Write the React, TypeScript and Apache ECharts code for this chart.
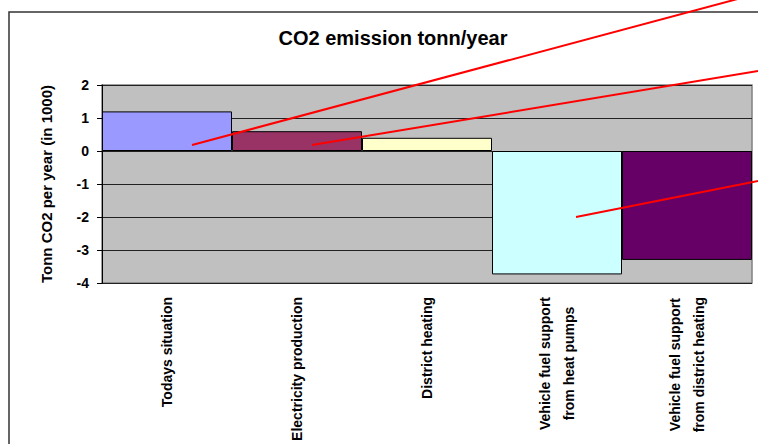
import React, { useEffect, useRef } from "react";
import * as echarts from "echarts";

const categories = [
  "Todays situation",
  "Electricity production",
  "District heating",
  "Vehicle fuel support\nfrom heat pumps",
  "Vehicle fuel support\nfrom district heating",
];
const values = [1.2, 0.6, 0.4, -3.74, -3.3];
const barColors = ["#9999FF", "#993366", "#FFFFCC", "#CCFFFF", "#660066"];
const yTicks = { min: -4, max: 2, interval: 1 };
const titleText = "CO2 emission tonn/year";
const yAxisTitle = "Tonn CO2 per year (in 1000)";
// annotation pointer lines (pixel space)
const pointerLines = [
  [192, 145, 745, -3],
  [312, 145, 758, 71],
  [576, 217, 758, 181],
];

export default function App() {
  const ref = useRef<HTMLDivElement>(null);
  useEffect(() => {
    if (!ref.current) return;
    const chart = echarts.init(ref.current, undefined, { renderer: "svg" });
    const font = "Liberation Sans, Arial, sans-serif";
    chart.setOption({
      animation: false,
      backgroundColor: "#ffffff",
      title: {
        text: titleText,
        left: 388,
        top: 23,
        textAlign: "center",
        textStyle: { fontFamily: font, fontSize: 20, fontWeight: "bold", color: "#000" },
      },
      grid: {
        left: 102,
        top: 85,
        right: 6,
        bottom: 161,
        show: true,
        backgroundColor: "#C0C0C0",
        borderColor: "#808080",
        borderWidth: 1.5,
        containLabel: false,
      },
      xAxis: {
        type: "category",
        data: categories,
        axisLine: { show: false, onZero: false },
        axisTick: { show: false },
        splitLine: { show: false },
        axisLabel: {
          rotate: 90,
          interval: 0,
          margin: 14,
          fontFamily: font,
          fontSize: 14,
          fontWeight: "bold",
          color: "#000",
          formatter: (v: string) =>
            v
              .split("\n")
              .map((s) => "{c|" + s + "}")
              .join("\n"),
          rich: {
            c: {
              align: "center",
              fontFamily: font,
              fontSize: 14,
              fontWeight: "bold",
              color: "#000",
              lineHeight: 24,
            },
          },
        },
      },
      yAxis: {
        type: "value",
        min: yTicks.min,
        max: yTicks.max,
        interval: yTicks.interval,
        name: yAxisTitle,
        nameLocation: "middle",
        nameGap: 48,
        nameTextStyle: { fontFamily: font, fontSize: 15, fontWeight: "bold", color: "#000" },
        axisLine: { show: true, lineStyle: { color: "#000", width: 1 } },
        axisTick: { show: true, length: 5, lineStyle: { color: "#000" } },
        splitLine: { show: true, lineStyle: { color: "#222", width: 1 } },
        axisLabel: {
          margin: 13,
          fontFamily: font,
          fontSize: 14,
          fontWeight: "bold",
          color: "#000",
        },
      },
      series: [
        {
          type: "bar",
          barCategoryGap: "0%",
          data: values.map((v, i) => ({
            value: v,
            itemStyle: { color: barColors[i], borderColor: "#000", borderWidth: 1 },
          })),
        },
      ],
      graphic: [
        {
          type: "rect",
          shape: { x: 9, y: 12, width: 800, height: 500 },
          style: { fill: "none", stroke: "#333", lineWidth: 1.5 },
          z: 0,
          silent: true,
        },
        ...pointerLines.map((l) => ({
          type: "line",
          shape: { x1: l[0], y1: l[1], x2: l[2], y2: l[3] },
          style: { stroke: "#FF0000", lineWidth: 2 },
          z: 100,
          silent: true,
        })),
      ],
    });
    return () => chart.dispose();
  }, []);
  return <div ref={ref} style={{ width: 758, height: 444, position: "absolute", left: 0, top: 0 }} />;
}
